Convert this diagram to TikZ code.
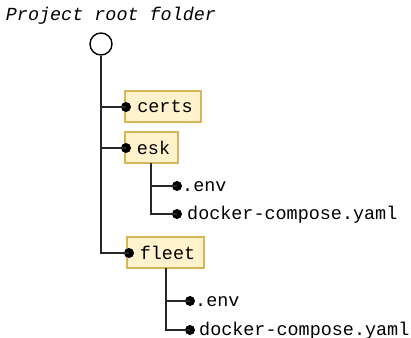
\documentclass[tikz,border=0pt]{standalone}
\usepackage{fontspec}
\setmonofont{Liberation Mono}
\begin{document}
\begin{tikzpicture}[x=1bp,y=-1bp,
  lbl/.style={font=\ttfamily\fontsize{18.5}{22}\selectfont, inner sep=0pt, anchor=west},
  folder/.style={draw=fbord, fill=ffill, line width=1.2bp, minimum height=31bp, inner sep=0pt, font=\ttfamily\fontsize{18.5}{22}\selectfont},
  dot/.style={circle, fill=black, inner sep=0pt, minimum size=10bp},
  conn/.style={line width=1.5bp, draw=black!85}]
\definecolor{ffill}{HTML}{FFF2CC}
\definecolor{fbord}{HTML}{D6B656}
\useasboundingbox (0,0) rectangle (411,338);
\node[font=\ttfamily\itshape\fontsize{18.5}{22}\selectfont, inner sep=0pt] (title) at (111,16) {Project root folder};
\node[circle, draw, line width=1.4bp, minimum size=22bp, inner sep=0pt] (root) at (101,44) {};
% folders
\node[folder, minimum width=76bp, text width=76bp, align=center] (certs) at (163,106.5) {\hspace*{4bp}certs};
\node[folder, minimum width=53bp, text width=53bp, align=center] (esk) at (151.5,147.5) {\hspace*{4bp}esk};
\node[folder, minimum width=77bp, text width=77bp, align=center] (fleet) at (165.5,252.5) {\hspace*{4bp}fleet};
% dots
\node[dot] (dcerts) at (126,107) {};
\node[dot] (desk) at (126,148) {};
\node[dot] (dfleet) at (129,253) {};
\node[dot] (deenv) at (177,186) {};
\node[dot] (dedc) at (177,214) {};
\node[dot] (dfenv) at (190,301) {};
\node[dot] (dfdc) at (190,330) {};
% file labels
\node[lbl] (eenv) at (182,187) {.env};
\node[lbl] (edc) at (187,214.5) {docker-compose.yaml};
\node[lbl] (fenv) at (195,302) {.env};
\node[lbl] (fdc) at (199,330.5) {docker-compose.yaml};
% connectors
\coordinate (t1) at (101,107);
\coordinate (t2) at (101,148);
\coordinate (t3) at (101,253);
\draw[conn] (root.south) -- (t3) -- (dfleet.center);
\draw[conn] (t1) -- (dcerts.center);
\draw[conn] (t2) -- (desk.center);
\coordinate (e0) at (151,163);
\coordinate (e1) at (151,186);
\coordinate (e2) at (151,214);
\draw[conn] (e0) -- (e2) -- (dedc.center);
\draw[conn] (e1) -- (deenv.center);
\coordinate (f0) at (166,268);
\coordinate (f1) at (166,301);
\coordinate (f2) at (166,330);
\draw[conn] (f0) -- (f2) -- (dfdc.center);
\draw[conn] (f1) -- (dfenv.center);
\end{tikzpicture}
\end{document}
